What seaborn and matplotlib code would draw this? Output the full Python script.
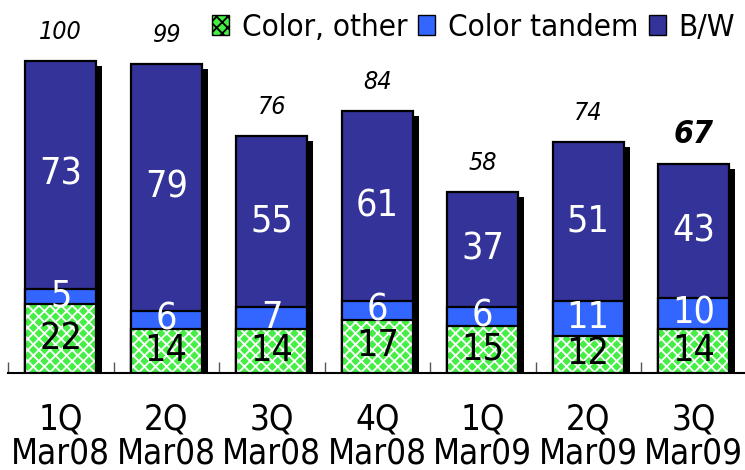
import numpy as np
import pandas as pd
import seaborn as sns
import matplotlib
matplotlib.use("Agg")
import matplotlib.pyplot as plt
from matplotlib.patches import Patch
from matplotlib.transforms import ScaledTranslation

# Quarterly units, split by product type
quarters = ["1Q\nMar08", "2Q\nMar08", "3Q\nMar08", "4Q\nMar08",
            "1Q\nMar09", "2Q\nMar09", "3Q\nMar09"]
color_other = [22, 14, 14, 17, 15, 12, 14]
color_tandem = [5, 6, 7, 6, 6, 11, 10]
bw = [73, 79, 55, 61, 37, 51, 43]
totals = [100, 99, 76, 84, 58, 74, 67]

NAVY = "#333399"
BLUE = "#3366FF"
GREEN = "#44EE44"

sns.set_theme(style="white")
plt.rcParams["font.family"] = ["DejaVu Sans"]
plt.rcParams["font.stretch"] = "condensed"
plt.rcParams["text.color"] = "black"
plt.rcParams["xtick.color"] = "black"
plt.rcParams["hatch.linewidth"] = 1.3

df = pd.DataFrame({
    "quarter": quarters,
    "other": color_other,
    "tandem": color_tandem,
    "bw": bw,
    "total": totals,
})
df["lower2"] = df["other"] + df["tandem"]
df["upper"] = df["lower2"] + df["bw"]

fig = plt.figure(figsize=(7.45, 4.70), dpi=100)
ax = fig.add_axes([8 / 745, 97 / 470, 738.5 / 745, 373 / 470])

W = 0.67
common = dict(x="quarter", order=quarters, width=W, saturation=1,
              errorbar=None, ax=ax)

# drop shadow behind each stack
n0 = len(ax.patches)
sns.barplot(data=df, y="upper", color="black", linewidth=0, **common)
shift = ax.transData + ScaledTranslation(6 / 100, -5 / 100, fig.dpi_scale_trans)
for p in ax.patches[n0:]:
    p.set_transform(shift)
    p.set_zorder(1)

# stacked segments, drawn as cumulative heights
sns.barplot(data=df, y="upper", color=NAVY, edgecolor="black",
            linewidth=1.6, zorder=2, **common)
sns.barplot(data=df, y="lower2", color=BLUE, edgecolor="black",
            linewidth=1.6, zorder=3, **common)
sns.barplot(data=df, y="other", color=GREEN, edgecolor="white",
            hatch="xxx", linewidth=0, zorder=4, **common)
sns.barplot(data=df, y="other", color="black", fill=False,
            linewidth=1.6, zorder=5, **common)

ax.set_xlim(-0.5, 6.5)
ax.set_ylim(0, 373 / 3.12)
ax.set_xlabel("")
ax.set_ylabel("")
ax.set_yticks([])
for s in ["top", "left", "right"]:
    ax.spines[s].set_visible(False)
ax.spines["bottom"].set_color("black")
ax.spines["bottom"].set_linewidth(1.5)

# segment labels
seg_size = 27
for i in range(len(quarters)):
    o, t, b = color_other[i], color_tandem[i], bw[i]
    ax.text(i, o / 2, str(o), ha="center", va="center", fontsize=seg_size,
            color="black", zorder=10)
    ax.text(i, o + t / 2, str(t), ha="center", va="center", fontsize=seg_size,
            color="white", zorder=10)
    ax.text(i, o + t + b / 2, str(b), ha="center", va="center",
            fontsize=seg_size, color="white", zorder=10)

# totals above each stack; latest quarter emphasised
for i, tot in enumerate(totals):
    last = i == len(totals) - 1
    ax.annotate(str(tot), (i, tot), xytext=(0, 29), textcoords="offset pixels",
                ha="center", va="center", style="italic",
                fontsize=23 if last else 18,
                fontweight="bold" if last else "normal",
                color="black", zorder=10)

# category ticks: labels at centres, marks on boundaries
ax.set_xticks(range(len(quarters)))
ax.set_xticklabels(quarters, fontsize=25)
for lab in ax.get_xticklabels():
    lab.set_linespacing(1.0)
ax.tick_params(axis="x", which="major", length=0, pad=21, colors="black")
ax.set_xticks(np.arange(-0.5, 7, 1.0), minor=True)
ax.tick_params(axis="x", which="minor", direction="in", length=8,
               width=1, color="#555555", bottom=True)

handles = [
    Patch(facecolor=GREEN, edgecolor="black", hatch="xxx", linewidth=1),
    Patch(facecolor=BLUE, edgecolor="black", linewidth=1),
    Patch(facecolor=NAVY, edgecolor="black", linewidth=1),
]
fig.legend(handles, ["Color, other", "Color tandem", "B/W"],
           loc="upper right", bbox_to_anchor=(1.012, 1.012), ncol=3,
           frameon=False, fontsize=22.5, handlelength=0.55, handleheight=0.6,
           handletextpad=0.4, columnspacing=0.35, borderaxespad=0.2)

fig.savefig("out.png", dpi=100)
